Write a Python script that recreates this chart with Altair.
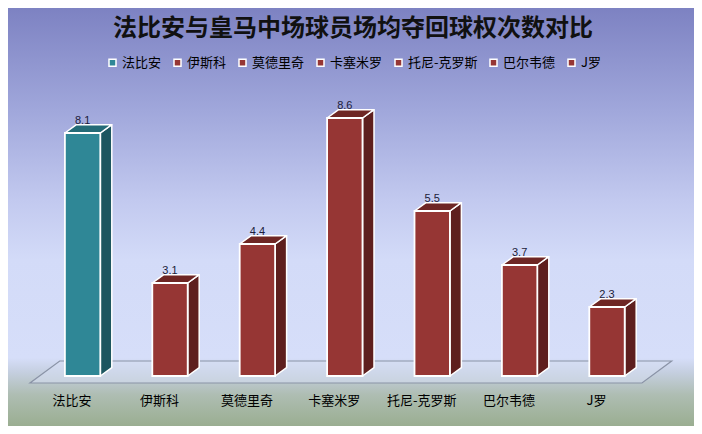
import altair as alt
import pandas as pd

# ---- data ----
title_text = "法比安与皇马中场球员场均夺回球权次数对比"
players = ["法比安", "伊斯科", "莫德里奇", "卡塞米罗", "托尼-克罗斯", "巴尔韦德", "J罗"]
values = [8.1, 3.1, 4.4, 8.6, 5.5, 3.7, 2.3]

# ---- styles ----
TEAL_FRONT, TEAL_TOP, TEAL_SIDE = "#2f8796", "#246b77", "#1d5660"
RED_FRONT, RED_TOP, RED_SIDE = "#963634", "#6e2624", "#5e1f1e"
front_colors = [TEAL_FRONT] + [RED_FRONT] * (len(players) - 1)
FONT = "Noto Sans CJK SC"

W, H = 686, 418
HW = 0.2025      # half bar width (category units)
DX = 0.1316      # 3D depth, x (category units)
DY = 0.277       # 3D depth, y (value units)

xs = alt.Scale(domain=[-0.8535, 6.9954], nice=False, zero=False)
ys = alt.Scale(domain=[-1.6667, 12.267], nice=False, zero=False)

bars = pd.DataFrame({"player": players, "value": values, "i": list(range(len(players)))})
bars["x1"] = bars["i"] - HW
bars["x2"] = bars["i"] + HW
bars["zero"] = 0.0
bars["ly"] = bars["value"] + DY
bars["lx"] = bars["i"] - 0.12
bars["labely"] = -0.83
bars["vtxt"] = bars["value"].map(lambda v: f"{v:.1f}")

side_rows, top_rows = [], []
for i, (p, v) in enumerate(zip(players, values)):
    side_rows += [
        {"player": p, "x": i + HW, "lo": 0.0, "hi": v},
        {"player": p, "x": i + HW + DX, "lo": DY, "hi": v + DY},
    ]
    top_rows += [
        {"player": p, "x": i - HW, "lo": v, "hi": v},
        {"player": p, "x": i - HW + DX, "lo": v, "hi": v + DY},
        {"player": p, "x": i + HW, "lo": v, "hi": v + DY},
        {"player": p, "x": i + HW + DX, "lo": v + DY, "hi": v + DY},
    ]
side = pd.DataFrame(side_rows)
top = pd.DataFrame(top_rows)

n = len(players)
FL, FB, FDX = -0.602, 0.5, 0.34
FF = -0.233
floor = pd.DataFrame({
    "x": [FL, FL + FDX, n - 0.6, n - 0.6 + FDX],
    "lo": [FF, FF, FF, FB],
    "hi": [FF, FB, FB, FB],
})

bg_grad = alt.Gradient(
    gradient="linear",
    stops=[
        alt.GradientStop(offset=0.0, color="#7d82c2"),
        alt.GradientStop(offset=0.244, color="#a0a7db"),
        alt.GradientStop(offset=0.459, color="#c2c9ef"),
        alt.GradientStop(offset=0.603, color="#d3dbf8"),
        alt.GradientStop(offset=0.837, color="#d6def9"),
        alt.GradientStop(offset=0.871, color="#c5cfe0"),
        alt.GradientStop(offset=0.926, color="#aebdb2"),
        alt.GradientStop(offset=1.0, color="#9aae91"),
    ],
    x1=0, x2=0, y1=0, y2=1,
)

one = pd.DataFrame({"t": [title_text]})

background = alt.Chart(one).mark_rect(fill=bg_grad).encode(
    x=alt.value(0), x2=alt.value(W), y=alt.value(0), y2=alt.value(H)
)

floor_layer = alt.Chart(floor).mark_area(
    fill="#d8e0f4", fillOpacity=0.5, stroke="#8a93a6", strokeWidth=1.2
).encode(
    x=alt.X("x:Q", scale=xs, axis=None),
    y=alt.Y("lo:Q", scale=ys, axis=None, stack=None),
    y2="hi:Q",
)

is_teal = alt.datum.player == players[0]

side_layer = alt.Chart(side).mark_area(
    stroke="white", strokeWidth=1.5, strokeJoin="round"
).encode(
    x=alt.X("x:Q", scale=xs, axis=None),
    y=alt.Y("lo:Q", scale=ys, axis=None, stack=None),
    y2="hi:Q",
    detail="player:N",
    fill=alt.condition(is_teal, alt.value(TEAL_SIDE), alt.value(RED_SIDE)),
)

top_layer = alt.Chart(top).mark_area(
    stroke="white", strokeWidth=1.5, strokeJoin="round"
).encode(
    x=alt.X("x:Q", scale=xs, axis=None),
    y=alt.Y("lo:Q", scale=ys, axis=None, stack=None),
    y2="hi:Q",
    detail="player:N",
    fill=alt.condition(is_teal, alt.value(TEAL_TOP), alt.value(RED_TOP)),
)

front_layer = alt.Chart(bars).mark_rect(stroke="white", strokeWidth=1.8).encode(
    x=alt.X("x1:Q", scale=xs, axis=None),
    x2="x2:Q",
    y=alt.Y("zero:Q", scale=ys, axis=None),
    y2="value:Q",
    color=alt.Color(
        "player:N",
        scale=alt.Scale(domain=players, range=front_colors),
        legend=alt.Legend(
            orient="none", legendX=98, legendY=48, direction="horizontal",
            title=None, symbolType="square", symbolSize=49,
            symbolStrokeColor="white", symbolStrokeWidth=1.5,
            labelFont=FONT, labelFontSize=13, labelColor="black",
            labelOffset=3, columnPadding=9, symbolOpacity=1,
        ),
    ),
)

value_labels = alt.Chart(bars).mark_text(
    font="Liberation Sans", fontSize=11, color="#1b1b3a", baseline="alphabetic", dy=-1
).encode(
    x=alt.X("i:Q", scale=xs, axis=None),
    y=alt.Y("ly:Q", scale=ys, axis=None),
    text="vtxt:N",
)

cat_labels = alt.Chart(bars).mark_text(
    font=FONT, fontSize=13, color="black", baseline="middle"
).encode(
    x=alt.X("lx:Q", scale=xs, axis=None),
    y=alt.Y("labely:Q", scale=ys, axis=None),
    text="player:N",
)

title_layer = alt.Chart(one).mark_text(
    font=FONT, fontSize=24, fontWeight="bold", color="#111111", baseline="alphabetic"
).encode(
    x=alt.value(345), y=alt.value(28), text="t:N"
)

chart = alt.layer(
    background, floor_layer, side_layer, top_layer, front_layer,
    value_labels, cat_labels, title_layer
).properties(
    width=W, height=H, padding=0, autosize=alt.AutoSizeParams(type="none")
).configure_view(stroke=None)

chart.save("out.html", embed_options={"renderer": "svg", "actions": False})
